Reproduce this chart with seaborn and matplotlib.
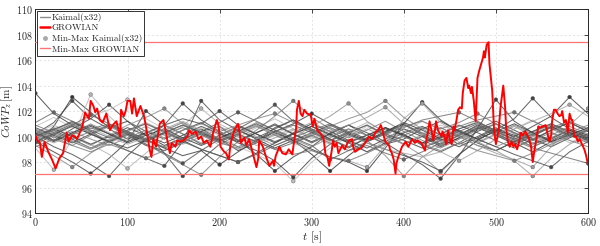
import matplotlib
matplotlib.use("Agg")
import matplotlib.pyplot as plt
from matplotlib.lines import Line2D
import seaborn as sns
import pandas as pd

# --- data ------------------------------------------------------------------
# Kaimal runs (x32): samples every 20 s
T_KAIMAL = [0, 20, 40, 60, 80, 100, 120, 140, 160, 180, 200, 220, 240, 260, 280, 300,
            320, 340, 360, 380, 400, 420, 440, 460, 480, 500, 520, 540, 560, 580, 600]

KAIMAL_RUNS = [
    [103.4, 101.8, 100.9, 100.2, 99.6, 100.1, 99.3, 98.9, 99.5, 100.4, 100.8, 99.7, 98.6, 97.3, 98.4, 99.2, 100.3, 100.9, 100.1, 99.4, 99.8, 100.6, 101.2, 100.4, 99.5, 98.9, 99.6, 100.2, 100.8, 100.1, 99.7],
    [100.2, 101.1, 102.8, 101.4, 100.6, 99.8, 100.3, 98.7, 96.9, 98.2, 99.4, 100.1, 99.6, 100.7, 101.3, 100.5, 99.8, 99.1, 99.9, 100.6, 100.2, 99.3, 98.8, 99.5, 100.4, 101.0, 100.3, 99.7, 100.5, 101.1, 100.4],
    [99.4, 100.8, 103.1, 101.9, 100.7, 101.2, 100.1, 99.3, 99.9, 100.6, 99.8, 98.9, 99.5, 100.4, 99.7, 98.6, 97.3, 98.5, 99.6, 100.3, 101.0, 100.2, 99.4, 100.1, 100.9, 100.3, 99.5, 98.8, 99.6, 100.2, 99.9],
    [99.1, 97.4, 99.8, 103.3, 101.6, 100.3, 99.5, 100.4, 101.1, 100.2, 99.3, 99.9, 100.7, 101.4, 100.6, 99.8, 100.5, 99.6, 98.8, 99.7, 100.4, 101.2, 100.5, 99.6, 98.9, 99.8, 100.6, 101.3, 100.4, 99.5, 100.2],
    [100.5, 99.7, 100.6, 101.4, 102.5, 101.2, 100.4, 99.8, 100.5, 101.1, 100.3, 99.5, 98.9, 98.1, 96.8, 98.3, 99.4, 100.2, 99.6, 100.4, 101.0, 100.1, 99.3, 99.9, 100.7, 100.1, 99.4, 100.0, 100.8, 100.3, 99.6],
    [100.8, 101.5, 100.7, 101.6, 102.1, 102.9, 101.4, 100.6, 99.8, 100.7, 100.1, 99.2, 98.6, 97.9, 96.5, 98.0, 99.1, 100.0, 100.8, 100.1, 99.4, 100.2, 100.9, 100.3, 99.5, 100.1, 100.8, 100.0, 99.3, 100.1, 100.7],
    [99.6, 98.8, 98.0, 97.1, 98.3, 99.6, 102.0, 100.9, 100.2, 99.4, 100.1, 100.8, 100.2, 99.5, 100.3, 101.0, 100.4, 99.7, 99.1, 99.8, 100.6, 100.0, 99.2, 99.9, 100.6, 101.2, 100.5, 99.8, 99.2, 99.9, 100.5],
    [100.1, 100.7, 100.0, 99.3, 100.1, 100.9, 101.5, 102.2, 101.0, 100.3, 99.6, 100.4, 101.1, 100.5, 99.8, 99.2, 99.9, 100.6, 99.7, 98.5, 96.9, 98.4, 99.3, 100.1, 99.5, 100.2, 100.9, 100.2, 99.5, 100.3, 100.9],
    [100.0, 99.2, 98.6, 97.8, 96.9, 98.5, 99.8, 100.9, 102.6, 101.3, 100.4, 99.7, 100.3, 101.0, 100.2, 99.5, 100.2, 100.9, 100.3, 99.6, 100.3, 100.8, 100.1, 99.4, 100.0, 100.7, 99.9, 99.2, 99.8, 100.5, 100.0],
    [100.3, 100.9, 100.2, 99.4, 98.6, 97.5, 98.7, 99.9, 100.8, 102.2, 101.0, 100.2, 99.5, 100.2, 100.9, 100.3, 99.6, 100.4, 101.1, 100.4, 99.7, 99.1, 99.8, 100.6, 101.2, 100.4, 99.7, 100.3, 100.9, 100.2, 99.6],
    [99.8, 100.5, 101.2, 100.4, 99.6, 98.9, 98.3, 97.7, 99.6, 102.8, 101.3, 100.5, 99.9, 100.6, 101.3, 100.6, 99.8, 99.2, 99.9, 100.7, 100.1, 99.5, 100.2, 100.9, 100.3, 99.7, 99.1, 99.8, 100.5, 101.1, 100.4],
    [99.5, 100.3, 101.0, 100.3, 99.6, 100.2, 99.4, 98.7, 97.9, 98.9, 99.8, 100.6, 101.4, 102.5, 101.2, 100.4, 99.7, 100.3, 100.9, 100.1, 99.4, 100.0, 100.7, 100.0, 99.3, 98.9, 99.6, 100.4, 101.0, 100.3, 99.7],
    [100.6, 100.0, 99.3, 100.1, 100.8, 100.1, 99.4, 98.6, 97.8, 97.0, 98.4, 99.6, 100.5, 101.6, 102.8, 101.5, 100.6, 99.9, 100.5, 101.2, 100.4, 99.7, 99.1, 99.8, 100.5, 101.0, 100.2, 99.5, 100.1, 100.8, 100.2],
    [99.9, 100.5, 99.8, 99.1, 99.7, 100.4, 99.8, 99.1, 98.5, 98.9, 97.8, 98.8, 99.7, 100.4, 101.0, 101.8, 101.0, 100.3, 99.7, 100.4, 101.1, 100.5, 99.8, 99.2, 99.9, 100.6, 100.1, 99.4, 99.9, 100.5, 99.9],
    [100.4, 99.7, 100.3, 101.0, 100.3, 99.6, 100.2, 100.9, 100.2, 99.5, 100.1, 100.7, 100.0, 99.3, 99.9, 100.8, 101.6, 102.6, 101.2, 100.3, 99.4, 98.5, 97.2, 98.6, 99.7, 100.5, 99.8, 99.2, 99.9, 100.6, 100.1],
    [99.7, 100.3, 100.9, 100.2, 99.5, 100.1, 100.8, 100.1, 99.4, 100.0, 100.6, 100.0, 99.3, 99.9, 100.5, 101.1, 100.4, 100.9, 101.5, 102.3, 101.0, 100.2, 99.6, 100.3, 99.6, 98.9, 98.1, 96.9, 98.3, 99.4, 100.1],
    [99.3, 98.5, 97.6, 98.7, 99.6, 100.4, 99.8, 100.5, 101.1, 100.4, 99.7, 100.3, 100.9, 100.2, 99.6, 100.2, 100.8, 101.4, 101.9, 102.8, 101.5, 100.6, 99.9, 100.4, 99.8, 99.2, 99.8, 100.4, 100.9, 100.3, 99.8],
    [100.2, 99.6, 100.3, 100.9, 100.2, 99.5, 100.1, 100.6, 99.9, 99.3, 99.9, 100.5, 99.8, 99.1, 99.7, 99.0, 98.4, 98.0, 97.3, 99.1, 101.0, 102.7, 101.3, 100.4, 99.8, 100.4, 101.0, 100.3, 99.6, 100.1, 100.7],
    [99.8, 100.4, 99.7, 99.1, 99.8, 100.5, 101.1, 100.4, 99.7, 100.3, 99.6, 99.0, 99.6, 100.2, 99.5, 98.9, 98.4, 98.1, 97.6, 99.3, 101.4, 102.6, 101.1, 100.2, 99.6, 100.2, 100.8, 100.1, 99.5, 100.0, 100.6],
    [100.0, 100.6, 100.0, 99.4, 100.0, 100.7, 100.1, 99.5, 100.1, 100.8, 100.2, 99.6, 100.3, 100.9, 100.2, 99.6, 100.2, 99.5, 98.8, 99.5, 98.6, 97.8, 96.7, 98.5, 100.6, 102.9, 101.2, 100.3, 99.7, 100.3, 99.8],
    [100.7, 100.1, 99.5, 100.2, 100.9, 100.2, 99.6, 100.3, 100.9, 100.3, 99.7, 100.4, 101.0, 100.3, 99.7, 100.3, 100.9, 100.2, 99.5, 99.0, 98.5, 98.0, 97.3, 98.6, 99.7, 100.5, 101.4, 103.0, 101.5, 100.6, 100.1],
    [99.6, 100.2, 100.8, 100.2, 99.6, 99.1, 99.7, 100.3, 99.7, 99.0, 98.5, 98.0, 98.7, 99.5, 100.2, 100.8, 100.2, 99.6, 100.1, 100.7, 100.1, 99.5, 100.0, 100.6, 101.1, 100.5, 100.0, 100.8, 101.6, 103.1, 101.8],
    [100.1, 99.5, 100.1, 100.7, 100.0, 99.4, 99.9, 100.6, 101.2, 100.5, 99.8, 100.3, 100.9, 100.2, 99.5, 100.0, 100.7, 100.1, 99.5, 99.0, 98.7, 98.4, 98.8, 98.1, 98.9, 99.8, 100.6, 101.2, 101.8, 102.5, 101.6],
    [99.9, 100.5, 101.0, 100.3, 99.7, 100.4, 101.0, 100.3, 99.6, 100.2, 100.8, 100.1, 99.5, 100.1, 100.6, 100.0, 99.4, 100.0, 100.6, 100.0, 99.4, 100.1, 100.7, 100.0, 99.3, 98.7, 98.2, 97.6, 99.2, 100.9, 102.2],
    [100.3, 99.7, 100.2, 100.8, 100.2, 99.6, 100.3, 100.9, 101.4, 101.0, 102.0, 100.9, 100.2, 99.6, 100.2, 100.8, 100.1, 99.5, 100.1, 100.7, 100.0, 99.4, 99.9, 100.5, 99.8, 99.2, 98.6, 98.1, 97.6, 98.8, 99.6],
    [99.6, 100.2, 99.6, 99.0, 99.6, 100.3, 99.7, 99.2, 99.8, 100.4, 99.8, 99.2, 99.8, 100.4, 100.9, 100.3, 99.7, 100.3, 100.9, 100.2, 100.7, 101.3, 101.6, 101.9, 101.2, 100.4, 99.7, 99.1, 98.7, 98.3, 97.9],
    [100.0, 100.6, 101.1, 100.5, 99.9, 100.5, 101.0, 100.4, 99.8, 100.4, 101.1, 101.9, 101.2, 100.5, 99.9, 99.3, 98.2, 98.9, 99.6, 100.2, 99.7, 99.1, 99.7, 100.4, 101.0, 100.4, 99.8, 100.4, 101.0, 100.4, 99.9],
    [99.2, 99.8, 99.3, 98.8, 99.4, 98.9, 98.3, 98.9, 99.6, 100.2, 99.6, 100.2, 100.8, 100.1, 99.5, 100.1, 100.7, 100.1, 99.6, 100.2, 100.8, 101.2, 100.6, 101.1, 101.8, 101.0, 100.3, 99.7, 100.3, 99.7, 99.2],
    [101.1, 101.9, 101.2, 100.6, 101.0, 100.4, 99.8, 100.3, 100.9, 100.2, 99.6, 100.2, 99.6, 99.0, 99.5, 100.1, 99.5, 98.9, 99.3, 98.7, 98.2, 98.8, 99.5, 100.1, 100.7, 100.1, 99.5, 100.1, 100.7, 101.2, 100.6],
    [100.5, 99.9, 100.4, 99.8, 99.3, 99.9, 100.5, 99.9, 100.5, 101.0, 100.4, 100.9, 101.4, 101.8, 101.1, 100.5, 100.0, 100.6, 100.1, 99.5, 100.0, 99.4, 98.9, 99.5, 98.9, 98.5, 98.1, 98.7, 99.4, 100.0, 100.6],
    [99.4, 100.1, 100.9, 101.7, 101.0, 100.3, 99.7, 99.1, 99.6, 99.0, 98.5, 98.0, 98.6, 99.3, 99.9, 100.5, 101.0, 100.4, 99.8, 100.3, 100.9, 100.3, 99.7, 100.2, 100.8, 100.2, 99.6, 100.2, 100.7, 100.1, 99.5],
    [100.9, 100.3, 99.8, 100.4, 100.9, 100.3, 99.7, 100.2, 100.7, 100.1, 99.5, 99.1, 99.6, 99.0, 98.6, 98.9, 98.4, 98.1, 98.7, 99.4, 100.1, 100.7, 100.2, 100.8, 101.3, 101.6, 101.9, 101.2, 100.6, 100.0, 100.5],
]

# grey shade of each Kaimal run
KAIMAL_SHADES = ["#3a3a3a", "#444444", "#333333", "#b5b5b5", "#404040", "#c0c0c0", "#3d3d3d", "#8a8a8a",
                 "#454545", "#b0b0b0", "#4a4a4a", "#505050", "#7a7a7a", "#383838", "#909090", "#9a9a9a",
                 "#858585", "#353535", "#a0a0a0", "#3f3f3f", "#424242", "#3c3c3c", "#a5a5a5", "#9c9c9c",
                 "#474747", "#6a6a6a", "#5a5a5a", "#757575", "#656565", "#808080", "#606060", "#707070"]

# GROWIAN run
T_GROWIAN = [0, 2, 5, 7, 10, 14, 18, 22, 26, 30,
             34, 36, 40, 43, 45, 47, 51, 54, 58, 60,
             63, 65, 67, 70, 73, 77, 81, 84, 88, 92,
             93, 96, 98, 100, 103, 105, 107, 110, 114, 118,
             120, 124, 126, 128, 131, 135, 139, 141, 143, 146,
             148, 152, 154, 157, 161, 165, 167, 170, 174, 177,
             180, 183, 186, 190, 193, 197, 199, 201, 205, 207,
             210, 212, 216, 220, 222, 223, 227, 229, 232, 236,
             240, 242, 243, 247, 250, 254, 258, 259, 261, 265,
             268, 272, 275, 279, 281, 283, 284, 286, 288, 290,
             292, 295, 299, 301, 303, 306, 310, 313, 315, 317,
             319, 322, 323, 325, 327, 329, 333, 336, 340, 344,
             345, 347, 351, 354, 358, 362, 366, 369, 373, 375,
             377, 378, 380, 384, 385, 387, 389, 391, 392, 394,
             398, 402, 405, 409, 412, 415, 419, 423, 425, 426,
             428, 430, 432, 434, 435, 437, 441, 442, 444, 446,
             448, 450, 452, 454, 455, 457, 459, 461, 463, 464,
             466, 468, 470, 471, 473, 474, 476, 478, 480, 482,
             484, 486, 487, 488, 490, 492, 493, 496, 498, 500,
             503, 505, 507, 508, 510, 511, 513, 515, 517, 519,
             521, 523, 525, 527, 529, 532, 536, 538, 540, 542,
             544, 546, 548, 551, 554, 558, 560, 561, 563, 565,
             567, 569, 571, 572, 574, 576, 578, 580, 582, 583,
             585, 587, 589, 591, 596, 598, 600]
V_GROWIAN = [100.1, 99.7, 99.5, 98.4, 99.6, 98.8, 98.2, 97.5, 98.3, 98.7,
             100.3, 99.6, 100.1, 100.0, 99.8, 100.1, 100.8, 101.9, 101.4, 102.8,
             102.4, 101.9, 102.2, 101.3, 101.1, 101.8, 100.5, 100.9, 101.2, 100.0,
             102.1, 101.6, 102.0, 102.8, 102.8, 101.8, 103.0, 101.6, 102.4, 101.6,
             100.8, 99.0, 98.4, 99.8, 99.2, 101.0, 101.3, 100.6, 99.8, 98.7,
             99.5, 99.2, 99.7, 99.6, 99.7, 100.0, 100.5, 100.2, 100.4, 99.8,
             100.0, 99.5, 99.7, 99.2, 100.3, 101.3, 100.8, 99.2, 98.8, 98.7,
             98.2, 99.5, 100.5, 101.0, 100.2, 99.5, 99.9, 99.3, 99.8, 98.7,
             97.6, 98.3, 99.7, 99.2, 98.5, 97.7, 98.1, 97.7, 98.5, 99.2,
             98.7, 98.6, 99.0, 98.6, 99.7, 100.6, 102.1, 102.8, 101.8, 101.6,
             102.1, 101.8, 101.7, 100.8, 101.4, 100.5, 100.2, 99.8, 98.6, 98.4,
             97.7, 99.0, 99.7, 99.2, 99.5, 98.7, 99.3, 99.0, 99.7, 99.8,
             99.2, 98.8, 99.0, 99.1, 99.5, 100.0, 99.8, 100.3, 100.6, 100.9,
             100.5, 100.1, 99.6, 99.3, 99.0, 98.7, 98.2, 97.1, 97.9, 98.4,
             99.2, 99.6, 99.2, 99.8, 99.5, 99.7, 99.5, 98.9, 100.0, 100.2,
             101.2, 100.5, 99.7, 100.6, 101.2, 100.5, 100.0, 100.4, 100.1, 99.4,
             100.5, 99.8, 99.4, 100.8, 100.5, 101.2, 102.1, 102.3, 102.2, 103.4,
             104.4, 104.6, 103.8, 104.0, 103.4, 103.9, 102.8, 101.2, 104.6, 105.2,
             105.7, 106.2, 106.7, 106.2, 107.2, 107.4, 105.7, 103.6, 100.5, 99.4,
             100.5, 102.3, 103.4, 104.0, 102.3, 100.8, 99.6, 99.2, 99.6, 99.2,
             99.4, 99.0, 99.5, 100.3, 100.1, 100.4, 99.8, 99.3, 98.0, 99.0,
             99.8, 100.8, 100.7, 100.8, 100.9, 99.6, 100.1, 101.2, 102.1, 102.1,
             101.8, 101.6, 101.7, 102.0, 101.1, 101.3, 100.3, 101.8, 101.3, 101.3,
             100.0, 100.0, 99.6, 99.8, 99.0, 98.5, 97.8]

X_TICKS = [0, 100, 200, 300, 400, 500, 600]
Y_TICKS = [94, 96, 98, 100, 102, 104, 106, 108, 110]

# --- build tables -----------------------------------------------------------
rows = []
for k, run in enumerate(KAIMAL_RUNS):
    for t, v in zip(T_KAIMAL, run):
        rows.append({"run": k, "t": t, "v": v})
kaimal = pd.DataFrame(rows)
# min / max of every Kaimal run
extremes = pd.concat([
    kaimal.loc[kaimal.groupby("run")["v"].idxmax()],
    kaimal.loc[kaimal.groupby("run")["v"].idxmin()],
])
growian = pd.DataFrame({"t": T_GROWIAN, "v": V_GROWIAN})

# --- style ------------------------------------------------------------------
sns.set_theme(style="white")
plt.rcParams["font.family"] = ["cmr10", "DejaVu Serif"]
plt.rcParams["mathtext.fontset"] = "cm"
plt.rcParams["axes.formatter.use_mathtext"] = True

fig = plt.figure(figsize=(6.0, 2.46), dpi=100)
ax = fig.add_axes([0.059, 0.134, 0.921, 0.829])

sns.lineplot(data=kaimal, x="t", y="v", hue="run", palette=KAIMAL_SHADES,
             linewidth=0.75, alpha=0.8, legend=False, estimator=None, ax=ax, zorder=2)
sns.scatterplot(data=extremes, x="t", y="v", hue="run", palette=KAIMAL_SHADES,
                s=7, linewidth=0.3, edgecolor="#555555", legend=False, ax=ax, zorder=3)
sns.lineplot(data=growian, x="t", y="v", color="#ff0000", linewidth=1.4,
             estimator=None, ax=ax, zorder=4)
ax.axhline(growian["v"].max(), color="#ff7373", linewidth=0.9, zorder=3)
ax.axhline(growian["v"].min(), color="#ff7373", linewidth=0.9, zorder=3)

ax.set_xlim(0, 600)
ax.set_ylim(94, 110)
ax.set_xticks(X_TICKS)
ax.set_yticks(Y_TICKS)
ax.grid(True, linestyle=(0, (3, 3)), color="#d9d9d9", linewidth=0.5)
ax.tick_params(direction="in", top=True, right=True, length=3, width=0.6,
               labelsize=7.3, colors="#262626", pad=2)
for s in ax.spines.values():
    s.set_color("#262626")
    s.set_linewidth(0.7)

ax.set_xlabel(r"$t$ [s]", fontsize=8.5, labelpad=1)
ax.set_ylabel(r"$CoWP_z\,$[m]", fontsize=8, labelpad=0.5)

handles = [
    Line2D([], [], color="#8c8c8c", linewidth=1.0),
    Line2D([], [], color="#ff0000", linewidth=1.8),
    Line2D([], [], color="#a8a8a8", marker="o", markersize=2.5, linestyle="none"),
    Line2D([], [], color="#ff7373", linewidth=1.0),
]
labels = ["Kaimal(x32)", "GROWIAN", "Min-Max Kaimal(x32)", "Min-Max GROWIAN"]
leg = ax.legend(handles, labels, loc="upper left", bbox_to_anchor=(0.0, 1.0),
                fontsize=6.6, frameon=True, fancybox=False, framealpha=1,
                edgecolor="#333333", borderpad=0.25, labelspacing=0.2,
                handlelength=1.1, handletextpad=0.25, borderaxespad=0.2)
leg.get_frame().set_linewidth(0.7)
leg.set_zorder(10)

plt.savefig("out.png", dpi=100)
plt.close()
